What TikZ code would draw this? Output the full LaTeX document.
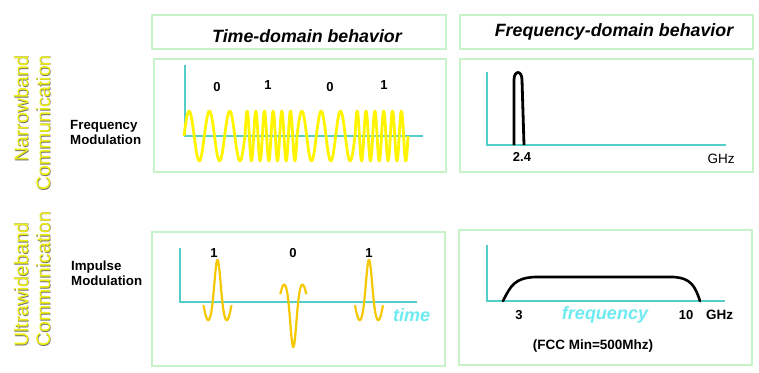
\documentclass[tikz,border=0pt]{standalone}
\usepackage{fontspec}
\setmainfont{Liberation Sans}
\definecolor{boxgreen}{RGB}{200,242,200}
\definecolor{axisc}{RGB}{85,205,200}
\definecolor{waveY}{RGB}{255,245,0}
\definecolor{pulseY}{RGB}{245,200,0}
\definecolor{labY}{RGB}{238,238,20}
\definecolor{cyanT}{RGB}{110,235,240}
\begin{document}
\begin{tikzpicture}[x=1pt,y=-1pt,
  panel/.style={draw=boxgreen, line width=2.5pt},
  axisline/.style={draw=axisc, line width=2pt},
  wave/.style={draw=waveY, line width=2.8pt},
  pulse/.style={draw=pulseY, line width=2.2pt},
  spec/.style={draw=black, line width=2.8pt},
  head/.style={anchor=base, inner sep=0pt, font=\fontsize{17.8}{20}\selectfont\bfseries\itshape},
  digit/.style={anchor=base, inner sep=0pt, font=\fontsize{13}{15}\selectfont\bfseries},
  sidelab/.style={anchor=base west, inner sep=0pt, align=left, font=\fontsize{13.3}{15}\selectfont\bfseries},
  rotlab/.style={rotate=90, inner sep=0pt, font=\fontsize{19.5}{22}\selectfont, text=labY},
  rotshadow/.style={rotate=90, inner sep=0pt, font=\fontsize{19.5}{22}\selectfont, text=black!55},
  cyanlab/.style={anchor=base, inner sep=0pt, text=cyanT, font=\fontsize{18}{20}\selectfont\bfseries\itshape}
]
\useasboundingbox (0,0) rectangle (759,372);
\fill[white] (0,0) rectangle (759,372);

% panels
\draw[panel] (152,15) rectangle (446,49);
\draw[panel] (460,15) rectangle (753,49);
\draw[panel] (154,59) rectangle (446,172);
\draw[panel] (460,59) rectangle (753,172);
\draw[panel] (152,232) rectangle (445,366);
\draw[panel] (459,230) rectangle (752,365);

% headers
\node[head] (th) at (307,42) {Time-domain behavior};
\node[head] (fh) at (614,36) {Frequency-domain behavior};

% side labels (rotated)
\node[rotshadow, anchor=base east] (nbS) at (28.7,55.7) {Narrowband};
\node[rotlab, anchor=base east] (nb) at (28,55) {Narrowband};
\node[rotshadow, anchor=base east] (ncS) at (50.7,55.7) {Communication};
\node[rotlab, anchor=base east] (nc) at (50,55) {Communication};
\node[rotshadow, anchor=base west] (ubS) at (28.7,347.7) {Ultrawideband};
\node[rotlab, anchor=base west] (ub) at (28,347) {Ultrawideband};
\node[rotshadow, anchor=base west] (ucS) at (50.7,347.7) {Communication};
\node[rotlab, anchor=base west] (uc) at (50,347) {Communication};

\node[sidelab] (fm) at (70,144.5) {Frequency\\Modulation};
\node[sidelab] (im) at (71,285.5) {Impulse\\Modulation};

% top time-domain plot
\coordinate (ta0) at (185,65);
\coordinate (ta1) at (185,136);
\coordinate (ta2) at (423,136);
\draw[axisline] (ta0) -- (ta1) -- (ta2);
\draw[wave, line join=round]
  plot[domain=184:245, samples=70, smooth] (\x,{136-25*sin(17.705*(\x-184))})
  -- plot[domain=245:297, samples=110, smooth] (\x,{136-25*sin(41.538*(\x-245))})
  -- plot[domain=297:355, samples=70, smooth] (\x,{136-25*sin(18.621*(\x-297))})
  -- plot[domain=355:408, samples=110, smooth] (\x,{136-25*sin(40.755*(\x-355))});
\node[digit] (d1) at (217,91) {0};
\node[digit] (d2) at (268,89) {1};
\node[digit] (d3) at (330,91) {0};
\node[digit] (d4) at (384,89) {1};

% top frequency-domain plot
\coordinate (fa0) at (487,72);
\coordinate (fa1) at (487,145);
\coordinate (fa2) at (726,145);
\draw[axisline] (fa0) -- (fa1) -- (fa2);
\draw[spec, line join=round] (514,145) -- (514,80) .. controls (514,70) and (522,70) .. (522,80) -- (524,145);
\node[digit] (f24) at (522,161) {2.4};
\node[anchor=base, inner sep=0pt, font=\fontsize{13.5}{15}\selectfont] (ghz1) at (721,163) {GHz};

% bottom time-domain plot
\coordinate (ba0) at (180,248);
\coordinate (ba1) at (180,302);
\coordinate (ba2) at (417,302);
\draw[axisline] (ba0) -- (ba1) -- (ba2);
\draw[pulse] plot[domain=-14:14, samples=70, smooth] ({217.5+\x},{302-42*cos(18.5*\x)*(0.6*exp(-(\x*\x/30))+0.4)});
\draw[pulse] plot[domain=-13:13, samples=70, smooth] ({293.3+\x},{302+45*cos(18.5*\x)*(0.65*exp(-(\x*\x/30))+0.35)});
\draw[pulse] plot[domain=-14:14, samples=70, smooth] ({369+\x},{302-42*cos(18.5*\x)*(0.6*exp(-(\x*\x/30))+0.4)});
\node[digit] (p1) at (214,257) {1};
\node[digit] (p2) at (293,257) {0};
\node[digit] (p3) at (369,257) {1};
\node[cyanlab, anchor=base west] (tm) at (393,321) {time};

% bottom frequency-domain plot
\coordinate (ga0) at (487,245);
\coordinate (ga1) at (487,301);
\coordinate (ga2) at (725,301);
\draw[axisline] (ga0) -- (ga1) -- (ga2);
\draw[spec, line width=2.6pt, line cap=round] (503,301) .. controls (511,285) and (515,278) .. (535,277) -- (673,277) .. controls (691,278) and (695,286) .. (700,301);
\node[digit] (g3) at (519,319) {3};
\node[cyanlab] (fq) at (605,319) {frequency};
\node[digit] (g10) at (686,319) {10};
\node[digit, anchor=base west, font=\fontsize{13.5}{15}\selectfont\bfseries] (ghz2) at (706,319) {GHz};
\node[anchor=base, inner sep=0pt, font=\fontsize{13.5}{15}\selectfont\bfseries] (fcc) at (593,349) {(FCC Min=500Mhz)};
\end{tikzpicture}
\end{document}
